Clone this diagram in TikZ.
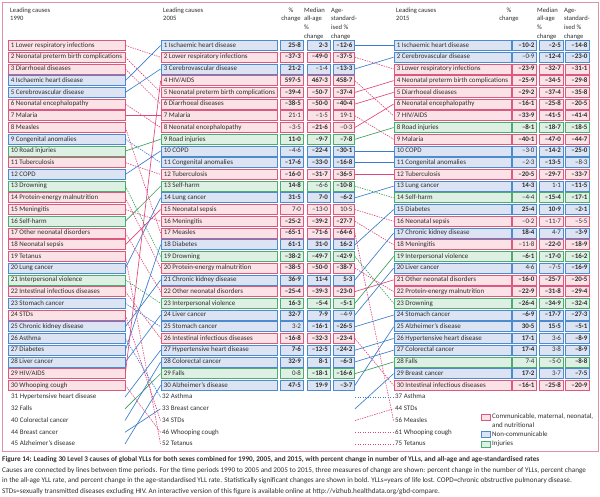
\documentclass[tikz,border=0pt]{standalone}
\usepackage{fontspec}
\setmainfont{Carlito}
\definecolor{cfill}{HTML}{FBE2E6}
\definecolor{cdraw}{HTML}{DC5A80}
\definecolor{nfill}{HTML}{DCE4F3}
\definecolor{ndraw}{HTML}{4C8BD0}
\definecolor{ifill}{HTML}{DEEFE3}
\definecolor{idraw}{HTML}{4DAC6F}
\definecolor{lpink}{HTML}{E0467C}
\definecolor{lblue}{HTML}{3A7DCB}
\definecolor{lgreen}{HTML}{3A9E5C}
\definecolor{framec}{HTML}{E48FAA}
\definecolor{txt}{HTML}{2E2E2E}
\tikzset{
  rowbox/.style={rectangle, minimum height=10pt, inner sep=0pt, line width=0.75pt},
  catC/.style={draw=cdraw, fill=cfill},
  catN/.style={draw=ndraw, fill=nfill},
  catI/.style={draw=idraw, fill=ifill},
  lbl/.style={inner sep=0pt, font=\fontsize{6.95}{7.5}\selectfont, text=txt, text height=4.9pt, text depth=1.4pt},
  hdr/.style={inner sep=0pt, font=\fontsize{6.6}{7.5}\selectfont, text=txt, text height=4.8pt, text depth=1.4pt},
  captxt/.style={inner sep=0pt, anchor=west, font=\fontsize{7.2}{8.5}\selectfont, text=txt, text height=5pt, text depth=1.5pt},
  link/.style={line width=0.65pt},
  lnC/.style={draw=lpink},
  lnN/.style={draw=lblue},
  lnI/.style={draw=lgreen},
  rise/.style={solid},
  fall/.style={dash pattern=on 1.4pt off 1.1pt},
}
\newcommand\sgv[1]{\textbf{#1}}
\newcommand\Ybox[1]{\pgfmathsetmacro\yy{45.5+(#1-1)*11.72}}
\newcommand\LRow[3]{\Ybox{#1}%
  \node[rowbox,#3,minimum width=117pt] (a#1) at (66.5,\yy) {};%
  \node[lbl,anchor=west] (at#1) at ([xshift=3pt]a#1.west) {#1 #2};}
\newcommand\LExtra[3]{\Ybox{#1}%
  \coordinate (a#2) at (125,\yy);%
  \node[lbl,anchor=west] (at#2) at (11,\yy) {#2 #3};}
\newcommand\MRow[6]{\Ybox{#1}%
  \node[rowbox,#3,minimum width=116pt] (bn#1) at (219,\yy) {};%
  \node[lbl,anchor=west] (bt#1) at ([xshift=3pt]bn#1.west) {#1 #2};%
  \node[rowbox,#3,minimum width=23pt] (bx#1) at (291.5,\yy) {};%
  \node[lbl,anchor=east] (bxt#1) at ([xshift=-2.3pt]bx#1.east) {#4};%
  \node[rowbox,#3,minimum width=23pt] (by#1) at (318.5,\yy) {};%
  \node[lbl,anchor=east] (byt#1) at ([xshift=-2.3pt]by#1.east) {#5};%
  \node[rowbox,#3,minimum width=21.5pt] (bz#1) at (343.75,\yy) {};%
  \node[lbl,anchor=east] (bzt#1) at ([xshift=-2.3pt]bz#1.east) {#6};}
\newcommand\MExtra[3]{\Ybox{#1}%
  \coordinate (bn#2) at (160.5,\yy);%
  \coordinate (bz#2) at (355,\yy);%
  \node[lbl,anchor=west] (bt#2) at (162,\yy) {#2 #3};}
\newcommand\RRow[6]{\Ybox{#1}%
  \node[rowbox,#3,minimum width=117pt] (cn#1) at (452.5,\yy) {};%
  \node[lbl,anchor=west] (ct#1) at ([xshift=3pt]cn#1.west) {#1 #2};%
  \node[rowbox,#3,minimum width=24pt] (cx#1) at (524.5,\yy) {};%
  \node[lbl,anchor=east] (cxt#1) at ([xshift=-2.3pt]cx#1.east) {#4};%
  \node[rowbox,#3,minimum width=24pt] (cy#1) at (551,\yy) {};%
  \node[lbl,anchor=east] (cyt#1) at ([xshift=-2.3pt]cy#1.east) {#5};%
  \node[rowbox,#3,minimum width=24pt] (cz#1) at (577.5,\yy) {};%
  \node[lbl,anchor=east] (czt#1) at ([xshift=-2.3pt]cz#1.east) {#6};}
\newcommand\RExtra[3]{\Ybox{#1}%
  \coordinate (cn#2) at (393.5,\yy);%
  \node[lbl,anchor=west] (ct#2) at (395,\yy) {#2 #3};}
\newcommand\LA[4]{\draw[link,ln#3,#4] (a#1.east) -- (bn#2.west);}
\newcommand\LB[4]{\draw[link,ln#3,#4] (bz#1.east) -- (cn#2.west);}
\begin{document}
\begin{tikzpicture}[x=1pt,y=-1pt]
\useasboundingbox (0,0) rectangle (600,497);
\draw[framec, line width=0.8pt] (2,2) rectangle (598,451);
% headers
\node[hdr,anchor=west] (h1a) at (10,10.5) {Leading causes};
\node[hdr,anchor=west] (h1b) at (10,19.2) {1990};
\node[hdr,anchor=west] (h2a) at (163,10.5) {Leading causes};
\node[hdr,anchor=west] (h2b) at (163,19.2) {2005};
\node[hdr] (h2c) at (291,10.5) {\%};
\node[hdr] (h2d) at (291,19.2) {change};
\node[hdr,anchor=west] (h2e) at (304,10.5) {Median};
\node[hdr,anchor=west] (h2f) at (304,19.2) {all-age};
\node[hdr,anchor=west] (h2g) at (304,27.9) {\%};
\node[hdr,anchor=west] (h2h) at (304,36.6) {change};
\node[hdr,anchor=west] (h2i) at (331,10.5) {Age-};
\node[hdr,anchor=west] (h2j) at (331,19.2) {standard-};
\node[hdr,anchor=west] (h2k) at (331,27.9) {ised \%};
\node[hdr,anchor=west] (h2l) at (331,36.6) {change};
\node[hdr,anchor=west] (h3a) at (396,10.5) {Leading causes};
\node[hdr,anchor=west] (h3b) at (396,19.2) {2015};
\node[hdr] (h3c) at (509,10.5) {\%};
\node[hdr] (h3d) at (509,19.2) {change};
\node[hdr,anchor=west] (h3e) at (537,10.5) {Median};
\node[hdr,anchor=west] (h3f) at (537,19.2) {all-age};
\node[hdr,anchor=west] (h3g) at (537,27.9) {\%};
\node[hdr,anchor=west] (h3h) at (537,36.6) {change};
\node[hdr,anchor=west] (h3i) at (564,10.5) {Age-};
\node[hdr,anchor=west] (h3j) at (564,19.2) {standard-};
\node[hdr,anchor=west] (h3k) at (564,27.9) {ised \%};
\node[hdr,anchor=west] (h3l) at (564,36.6) {change};
% 1990
\LRow{1}{Lower respiratory infections}{catC}
\LRow{2}{Neonatal preterm birth complications}{catC}
\LRow{3}{Diarrhoeal diseases}{catC}
\LRow{4}{Ischaemic heart disease}{catN}
\LRow{5}{Cerebrovascular disease}{catN}
\LRow{6}{Neonatal encephalopathy}{catC}
\LRow{7}{Malaria}{catC}
\LRow{8}{Measles}{catC}
\LRow{9}{Congenital anomalies}{catN}
\LRow{10}{Road injuries}{catI}
\LRow{11}{Tuberculosis}{catC}
\LRow{12}{COPD}{catN}
\LRow{13}{Drowning}{catI}
\LRow{14}{Protein-energy malnutrition}{catC}
\LRow{15}{Meningitis}{catC}
\LRow{16}{Self-harm}{catI}
\LRow{17}{Other neonatal disorders}{catC}
\LRow{18}{Neonatal sepsis}{catC}
\LRow{19}{Tetanus}{catC}
\LRow{20}{Lung cancer}{catN}
\LRow{21}{Interpersonal violence}{catI}
\LRow{22}{Intestinal infectious diseases}{catC}
\LRow{23}{Stomach cancer}{catN}
\LRow{24}{STDs}{catC}
\LRow{25}{Chronic kidney disease}{catN}
\LRow{26}{Asthma}{catN}
\LRow{27}{Diabetes}{catN}
\LRow{28}{Liver cancer}{catN}
\LRow{29}{HIV/AIDS}{catC}
\LRow{30}{Whooping cough}{catC}
\LExtra{31}{31}{Hypertensive heart disease}
\LExtra{32}{32}{Falls}
\LExtra{33}{40}{Colorectal cancer}
\LExtra{34}{44}{Breast cancer}
\LExtra{35}{45}{Alzheimer's disease}
% 2005
\MRow{1}{Ischaemic heart disease}{catN}{\sgv{25·8}}{\sgv{2·3}}{\sgv{–12·6}}
\MRow{2}{Lower respiratory infections}{catC}{\sgv{–37·3}}{\sgv{–49·0}}{\sgv{–37·5}}
\MRow{3}{Cerebrovascular disease}{catN}{\sgv{21·2}}{–1·4}{\sgv{–13·3}}
\MRow{4}{HIV/AIDS}{catC}{\sgv{597·5}}{\sgv{467·3}}{\sgv{458·7}}
\MRow{5}{Neonatal preterm birth complications}{catC}{\sgv{–39·4}}{\sgv{–50·7}}{\sgv{–37·4}}
\MRow{6}{Diarrhoeal diseases}{catC}{\sgv{–38·5}}{\sgv{–50·0}}{\sgv{–40·4}}
\MRow{7}{Malaria}{catC}{21·1}{–1·5}{19·1}
\MRow{8}{Neonatal encephalopathy}{catC}{–3·5}{\sgv{–21·6}}{–0·3}
\MRow{9}{Road injuries}{catI}{\sgv{11·0}}{\sgv{–9·7}}{\sgv{–7·8}}
\MRow{10}{COPD}{catN}{–4·6}{\sgv{–22·4}}{\sgv{–30·1}}
\MRow{11}{Congenital anomalies}{catN}{\sgv{–17·6}}{\sgv{–33·0}}{\sgv{–16·8}}
\MRow{12}{Tuberculosis}{catC}{\sgv{–16·0}}{\sgv{–31·7}}{\sgv{–36·5}}
\MRow{13}{Self-harm}{catI}{\sgv{14·8}}{–6·6}{\sgv{–10·8}}
\MRow{14}{Lung cancer}{catN}{\sgv{31·5}}{\sgv{7·0}}{\sgv{–6·2}}
\MRow{15}{Neonatal sepsis}{catC}{7·0}{–13·0}{10·5}
\MRow{16}{Meningitis}{catC}{\sgv{–25·2}}{\sgv{–39·2}}{\sgv{–27·7}}
\MRow{17}{Measles}{catC}{\sgv{–65·1}}{\sgv{–71·6}}{\sgv{–64·6}}
\MRow{18}{Diabetes}{catN}{\sgv{61·1}}{\sgv{31·0}}{\sgv{16·2}}
\MRow{19}{Drowning}{catI}{\sgv{–38·2}}{\sgv{–49·7}}{\sgv{–42·9}}
\MRow{20}{Protein-energy malnutrition}{catC}{\sgv{–38·5}}{\sgv{–50·0}}{\sgv{–38·7}}
\MRow{21}{Chronic kidney disease}{catN}{\sgv{36·9}}{\sgv{11·4}}{\sgv{5·3}}
\MRow{22}{Other neonatal disorders}{catC}{\sgv{–25·4}}{\sgv{–39·3}}{\sgv{–23·0}}
\MRow{23}{Interpersonal violence}{catI}{\sgv{16·3}}{\sgv{–5·4}}{\sgv{–5·1}}
\MRow{24}{Liver cancer}{catN}{\sgv{32·7}}{\sgv{7·9}}{–4·9}
\MRow{25}{Stomach cancer}{catN}{3·2}{\sgv{–16·1}}{\sgv{–26·5}}
\MRow{26}{Intestinal infectious diseases}{catC}{\sgv{–16·8}}{\sgv{–32·3}}{\sgv{–23·4}}
\MRow{27}{Hypertensive heart disease}{catN}{\sgv{7·6}}{\sgv{–12·5}}{\sgv{–24·2}}
\MRow{28}{Colorectal cancer}{catN}{\sgv{32·9}}{\sgv{8·1}}{\sgv{–6·3}}
\MRow{29}{Falls}{catI}{0·8}{\sgv{–18·1}}{\sgv{–16·6}}
\MRow{30}{Alzheimer's disease}{catN}{\sgv{47·5}}{\sgv{19·9}}{\sgv{–3·7}}
\MExtra{31}{32}{Asthma}
\MExtra{32}{33}{Breast cancer}
\MExtra{33}{34}{STDs}
\MExtra{34}{46}{Whooping cough}
\MExtra{35}{52}{Tetanus}
% 2015
\RRow{1}{Ischaemic heart disease}{catN}{\sgv{–10·2}}{\sgv{–2·5}}{\sgv{–14·8}}
\RRow{2}{Cerebrovascular disease}{catN}{–0·9}{\sgv{–12·4}}{\sgv{–23·0}}
\RRow{3}{Lower respiratory infections}{catC}{\sgv{–23·9}}{\sgv{–32·7}}{\sgv{–31·1}}
\RRow{4}{Neonatal preterm birth complications}{catC}{\sgv{–25·9}}{\sgv{–34·5}}{\sgv{–29·8}}
\RRow{5}{Diarrhoeal diseases}{catC}{\sgv{–29·2}}{\sgv{–37·4}}{\sgv{–35·8}}
\RRow{6}{Neonatal encephalopathy}{catC}{\sgv{–16·1}}{\sgv{–25·8}}{\sgv{–20·5}}
\RRow{7}{HIV/AIDS}{catC}{\sgv{–33·9}}{\sgv{–41·5}}{\sgv{–41·4}}
\RRow{8}{Road injuries}{catI}{\sgv{–8·1}}{\sgv{–18·7}}{\sgv{–18·5}}
\RRow{9}{Malaria}{catC}{\sgv{–40·1}}{\sgv{–47·0}}{\sgv{–44·7}}
\RRow{10}{COPD}{catN}{–3·0}{\sgv{–14·2}}{\sgv{–25·0}}
\RRow{11}{Congenital anomalies}{catN}{–2·3}{\sgv{–13·5}}{–8·3}
\RRow{12}{Tuberculosis}{catC}{\sgv{–20·5}}{\sgv{–29·7}}{\sgv{–33·7}}
\RRow{13}{Lung cancer}{catN}{\sgv{14·3}}{1·1}{\sgv{–11·5}}
\RRow{14}{Self-harm}{catI}{–4·4}{\sgv{–15·4}}{\sgv{–17·1}}
\RRow{15}{Diabetes}{catN}{\sgv{25·4}}{\sgv{10·9}}{\sgv{–2·1}}
\RRow{16}{Neonatal sepsis}{catC}{–0·2}{–11·7}{–5·5}
\RRow{17}{Chronic kidney disease}{catN}{\sgv{18·4}}{4·7}{\sgv{–3·9}}
\RRow{18}{Meningitis}{catC}{–11·8}{\sgv{–22·0}}{\sgv{–18·9}}
\RRow{19}{Interpersonal violence}{catI}{\sgv{–6·1}}{\sgv{–17·0}}{\sgv{–16·2}}
\RRow{20}{Liver cancer}{catN}{4·6}{–7·5}{\sgv{–16·9}}
\RRow{21}{Other neonatal disorders}{catC}{\sgv{–16·0}}{\sgv{–25·7}}{\sgv{–20·5}}
\RRow{22}{Protein-energy malnutrition}{catC}{\sgv{–22·9}}{\sgv{–31·8}}{\sgv{–29·4}}
\RRow{23}{Drowning}{catI}{\sgv{–26·4}}{\sgv{–34·9}}{\sgv{–32·4}}
\RRow{24}{Stomach cancer}{catN}{\sgv{–6·9}}{\sgv{–17·7}}{\sgv{–27·3}}
\RRow{25}{Alzheimer's disease}{catN}{\sgv{30·5}}{\sgv{15·5}}{\sgv{–5·1}}
\RRow{26}{Hypertensive heart disease}{catN}{\sgv{17·1}}{3·6}{\sgv{–8·9}}
\RRow{27}{Colorectal cancer}{catN}{\sgv{17·4}}{3·8}{\sgv{–8·9}}
\RRow{28}{Falls}{catI}{7·4}{–5·0}{\sgv{–8·8}}
\RRow{29}{Breast cancer}{catN}{\sgv{17·2}}{3·7}{\sgv{–7·5}}
\RRow{30}{Intestinal infectious diseases}{catC}{\sgv{–16·1}}{\sgv{–25·8}}{\sgv{–20·9}}
\RExtra{31}{37}{Asthma}
\RExtra{32}{44}{STDs}
\RExtra{33}{56}{Measles}
\RExtra{34}{61}{Whooping cough}
\RExtra{35}{75}{Tetanus}
% links 1990 -> 2005
\LA{1}{2}{C}{fall} \LA{2}{5}{C}{fall} \LA{3}{6}{C}{fall} \LA{4}{1}{N}{rise}
\LA{5}{3}{N}{rise} \LA{6}{8}{C}{fall} \LA{7}{7}{C}{rise} \LA{8}{17}{C}{fall}
\LA{9}{11}{N}{fall} \LA{10}{9}{I}{rise} \LA{11}{12}{C}{fall} \LA{12}{10}{N}{rise}
\LA{13}{19}{I}{fall} \LA{14}{20}{C}{fall} \LA{15}{16}{C}{fall} \LA{16}{13}{I}{rise}
\LA{17}{22}{C}{fall} \LA{18}{15}{C}{rise} \LA{19}{52}{C}{fall} \LA{20}{14}{N}{rise}
\LA{21}{23}{I}{fall} \LA{22}{26}{C}{fall} \LA{23}{25}{N}{fall} \LA{24}{34}{C}{fall}
\LA{25}{21}{N}{rise} \LA{26}{32}{N}{fall} \LA{27}{18}{N}{rise} \LA{28}{24}{N}{rise}
\LA{29}{4}{C}{rise} \LA{30}{46}{C}{fall} \LA{31}{27}{N}{rise} \LA{32}{29}{I}{rise}
\LA{40}{28}{N}{rise} \LA{44}{33}{N}{rise} \LA{45}{30}{N}{rise}
% links 2005 -> 2015
\LB{1}{1}{N}{rise} \LB{2}{3}{C}{fall} \LB{3}{2}{N}{rise} \LB{4}{7}{C}{fall}
\LB{5}{4}{C}{rise} \LB{6}{5}{C}{rise} \LB{7}{9}{C}{fall} \LB{8}{6}{C}{rise}
\LB{9}{8}{I}{rise} \LB{10}{10}{N}{rise} \LB{11}{11}{N}{rise} \LB{12}{12}{C}{rise}
\LB{13}{14}{I}{fall} \LB{14}{13}{N}{rise} \LB{15}{16}{C}{fall} \LB{16}{18}{C}{fall}
\LB{17}{56}{C}{fall} \LB{18}{15}{N}{rise} \LB{19}{23}{I}{fall} \LB{20}{22}{C}{fall}
\LB{21}{17}{N}{rise} \LB{22}{21}{C}{rise} \LB{23}{19}{I}{rise} \LB{24}{20}{N}{rise}
\LB{25}{24}{N}{rise} \LB{26}{30}{C}{fall} \LB{27}{26}{N}{rise} \LB{28}{27}{N}{rise}
\LB{29}{28}{I}{rise} \LB{30}{25}{N}{rise} \LB{32}{37}{N}{fall} \LB{33}{29}{N}{rise}
\LB{34}{44}{C}{fall} \LB{46}{61}{C}{fall} \LB{52}{75}{C}{fall}
% legend
\node[rowbox,catC,minimum width=8.5pt,minimum height=6pt] (lgC) at (486,417) {};
\node[lbl,anchor=west] (lgCt) at (492,417) {Communicable, maternal, neonatal,};
\node[lbl,anchor=west] (lgCt2) at (492,426) {and nutritional};
\node[rowbox,catN,minimum width=8.5pt,minimum height=6pt] (lgN) at (486,434.5) {};
\node[lbl,anchor=west] (lgNt) at (492,434.5) {Non-communicable};
\node[rowbox,catI,minimum width=8.5pt,minimum height=6pt] (lgI) at (486,444) {};
\node[lbl,anchor=west] (lgIt) at (492,444) {Injuries};
% caption
\node[captxt,font=\fontsize{7.2}{8.5}\selectfont\bfseries] (cap1) at (2,460) {Figure 14: Leading 30 Level 3 causes of global YLLs for both sexes combined for 1990, 2005, and 2015, with percent change in number of YLLs, and all-age and age-standardised rates};
\node[captxt] (cap2) at (2,470.5) {Causes are connected by lines between time periods. For the time periods 1990 to 2005 and 2005 to 2015, three measures of change are shown: percent change in the number of YLLs, percent change};
\node[captxt] (cap3) at (2,481) {in the all-age YLL rate, and percent change in the age-standardised YLL rate. Statistically significant changes are shown in bold. YLLs=years of life lost. COPD=chronic obstructive pulmonary disease.};
\node[captxt] (cap4) at (2,491.5) {STDs=sexually transmitted diseases excluding HIV. An interactive version of this figure is available online at http://vizhub.healthdata.org/gbd-compare.};
\end{tikzpicture}
\end{document}
